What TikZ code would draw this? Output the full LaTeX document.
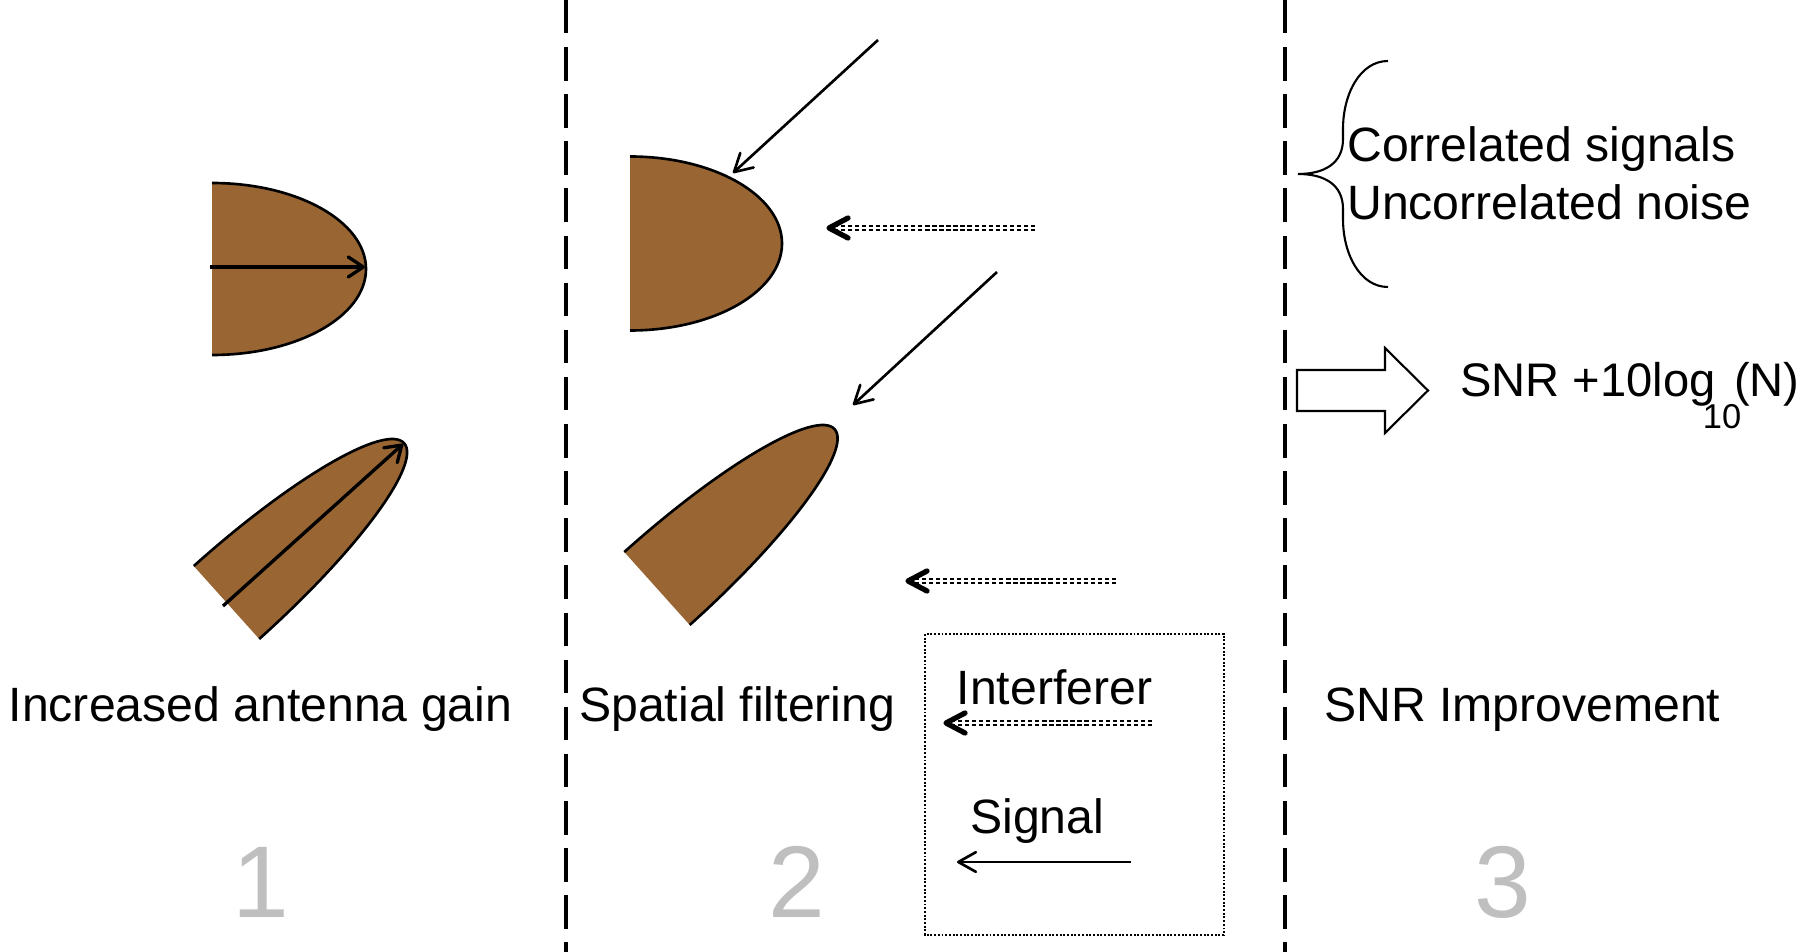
\documentclass[tikz,border=0pt]{standalone}
\usepackage{fontspec}
\setmainfont{Liberation Sans}
\usetikzlibrary{arrows.meta}
\definecolor{lobe}{RGB}{153,102,51}
\definecolor{numgray}{RGB}{191,191,191}
\begin{document}
\begin{tikzpicture}[x=0.01cm, y=-0.01cm,
  txt/.style={anchor=base west, inner sep=0pt, font=\fontsize{13.7}{16}\selectfont},
  num/.style={anchor=base, inner sep=0pt, text=numgray, font=\fontsize{29}{32}\selectfont},
  sep/.style={line width=1.1pt, dash pattern=on 9.5pt off 3.9pt},
  lobeline/.style={line width=0.75pt},
  beam/.style={line width=0.95pt, -{Straight Barb[length=4.3pt, width=5.7pt, round]}},
  sig/.style={line width=0.75pt, -{Straight Barb[length=5pt, width=5.6pt, round]}},
  intf/.style={double, double distance=0.35pt, line width=0.7pt, dash pattern=on 1.2pt off 0.8pt},
  ihead/.style={line width=1.5pt, line cap=round, line join=round},
  legendbox/.style={line width=0.55pt, dash pattern=on 0.55pt off 0.5pt},
  blockarrow/.style={line width=0.6pt, fill=white, line join=miter},
  bracestyle/.style={line width=0.6pt}
]
\useasboundingbox (0,0) rectangle (1812,952);

% separators
\coordinate (s1t) at (566,0); \coordinate (s1b) at (566,952);
\coordinate (s2t) at (1285,0); \coordinate (s2b) at (1285,952);
\draw[sep] (s1t) -- (s1b);
\draw[sep] (s2t) -- (s2b);

% ---------- section 1 ----------
\fill[lobe] (212,183) arc[start angle=-90, end angle=90, x radius=154, y radius=86] -- cycle;
\draw[lobeline] (212,183) arc[start angle=-90, end angle=90, x radius=154, y radius=86];
\coordinate (a1s) at (210,267); \coordinate (a1e) at (365,267);
\draw[beam] (a1s) -- (a1e);
\begin{scope}[shift={(226.5,602.5)}, rotate=41.9]
  \fill[lobe] (0,-49) arc[start angle=-90, end angle=90, x radius=238.6, y radius=49] -- cycle;
  \draw[lobeline] (0,-49) arc[start angle=-90, end angle=90, x radius=238.6, y radius=49];
\end{scope}
\coordinate (a2s) at (223,606); \coordinate (a2e) at (403,444);
\draw[beam] (a2s) -- (a2e);

\node[txt] (lab1) at (8,721) {Increased antenna gain};
\node[num] (n1) at (261,917) {1};

% ---------- section 2 ----------
\fill[lobe] (630,156.5) arc[start angle=-90, end angle=90, x radius=152, y radius=87] -- cycle;
\draw[lobeline] (630,156.5) arc[start angle=-90, end angle=90, x radius=152, y radius=87];
\begin{scope}[shift={(657,588.5)}, rotate=41.9]
  \fill[lobe] (0,-49) arc[start angle=-90, end angle=90, x radius=238.6, y radius=49] -- cycle;
  \draw[lobeline] (0,-49) arc[start angle=-90, end angle=90, x radius=238.6, y radius=49];
\end{scope}

\coordinate (b1s) at (878,40); \coordinate (b1e) at (733,173);
\draw[sig] (b1s) -- (b1e);
\coordinate (b2s) at (997,272); \coordinate (b2e) at (853,405);
\draw[sig] (b2s) -- (b2e);

% interferer arrows
\coordinate (i1t) at (829,228); \coordinate (i1a) at (834,228); \coordinate (i1e) at (1035,228);
\draw[intf] (i1e) -- (i1a);
\draw[ihead] (i1t) ++(19,-10) -- (i1t) -- ++(19,10);
\coordinate (i2t) at (908,581); \coordinate (i2a) at (913,581); \coordinate (i2e) at (1116,581);
\draw[intf] (i2e) -- (i2a);
\draw[ihead] (i2t) ++(19,-10) -- (i2t) -- ++(19,10);

\node[txt] (lab2) at (578.5,721) {Spatial filtering};
\node[num] (n2) at (797,917) {2};

% legend
\draw[legendbox] (925,634) rectangle (1224,935);
\node[txt] (lint) at (956,704) {Interferer};
\coordinate (i3t) at (946,723); \coordinate (i3a) at (951,723); \coordinate (i3e) at (1152,723);
\draw[intf] (i3e) -- (i3a);
\draw[ihead] (i3t) ++(19,-10) -- (i3t) -- ++(19,10);
\node[txt] (lsig) at (969.5,833) {Signal};
\coordinate (sgs) at (1131,862); \coordinate (sge) at (957,862);
\draw[sig] (sgs) -- (sge);

% ---------- section 3 ----------
\draw[bracestyle] (1388,61) .. controls (1360,61) and (1343,94) .. (1343,129)
  -- (1343,139) .. controls (1343,163) and (1325,174) .. (1298,174)
  .. controls (1325,174) and (1343,185) .. (1343,209)
  -- (1343,219) .. controls (1343,254) and (1360,287) .. (1388,287);
\node[txt] (corr) at (1346.5,162) {Correlated signals};
\node[txt] (unc) at (1346.5,220) {Uncorrelated noise};

\draw[blockarrow] (1297,370) -- (1385,370) -- (1385,348) -- (1428,390.5)
  -- (1385,433) -- (1385,411) -- (1297,411) -- cycle;
\node[txt, font=\fontsize{13.4}{16}\selectfont] (snr) at (1459.5,397)
  {SNR +10log\kern-3.6pt\raisebox{-9pt}{\fontsize{9.8}{10}\selectfont 10}\kern-2pt(N)};

\node[txt] (lab3) at (1323.5,721) {SNR Improvement};
\node[num] (n3) at (1503,917) {3};
\end{tikzpicture}
\end{document}
